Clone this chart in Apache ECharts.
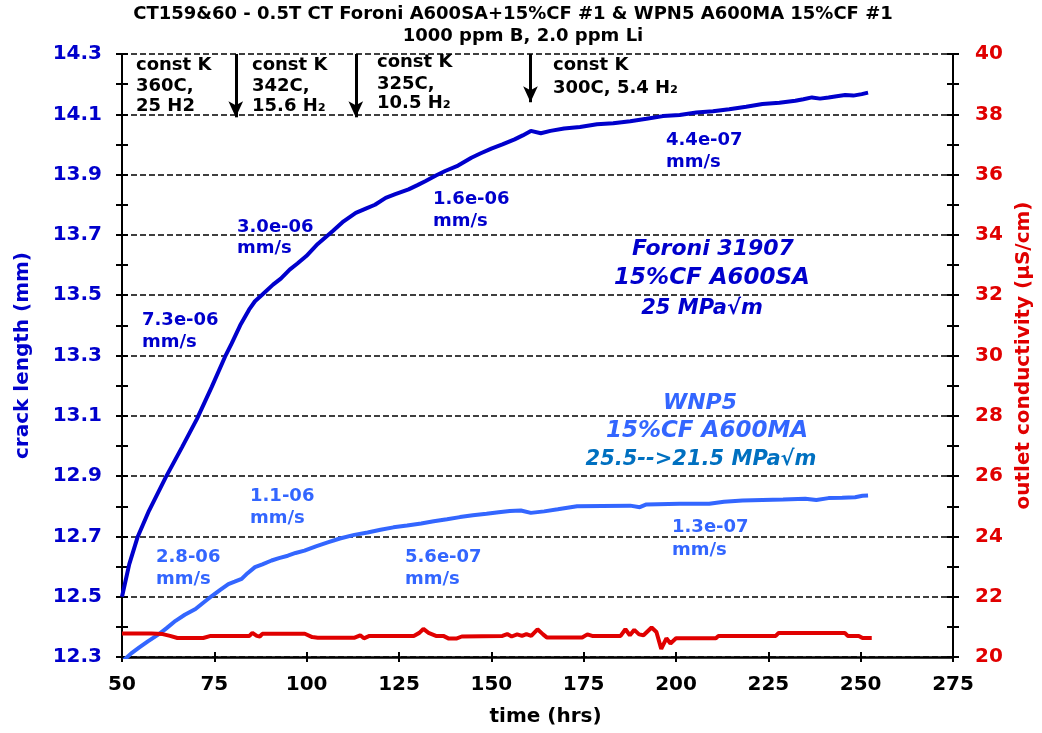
<!DOCTYPE html>
<html><head><meta charset="utf-8">
<script src="https://cdn.jsdelivr.net/npm/echarts@6/dist/echarts.min.js"></script>
<style>html,body{margin:0;padding:0;background:#fff}#c{width:1042px;height:733px}</style>
</head><body><div id="c"></div>
<script>
// ---- data ----
const foroniT = [50, 51.97, 54.2, 57.3, 61.8, 66.3, 70.3, 74.3, 77.9, 79.7, 82, 84.4, 86, 87.8, 90.9, 93, 95.4, 97.5, 99.9, 103, 107, 110, 113.3, 116, 118.5, 121.4, 124, 127.6, 130, 132.1, 135, 137.5, 141, 144.6, 147, 150, 153, 156.3, 158.5, 160.7, 163.4, 166, 169.7, 174, 178.6, 183, 187.6, 192, 196.5, 201, 205.5, 210, 214.4, 219, 223.4, 228, 232.3, 234.5, 236.8, 239, 241.3, 243.5, 245.8, 248, 250.3, 252];
const foroniCrack = [12.50, 12.608, 12.697, 12.785, 12.895, 12.997, 13.09, 13.196, 13.296, 13.34, 13.40, 13.452, 13.48, 13.50, 13.535, 13.555, 13.585, 13.605, 13.63, 13.67, 13.712, 13.745, 13.773, 13.787, 13.80, 13.823, 13.835, 13.851, 13.865, 13.878, 13.897, 13.912, 13.93, 13.956, 13.97, 13.986, 14.0, 14.017, 14.03, 14.045, 14.037, 14.045, 14.053, 14.058, 14.067, 14.07, 14.077, 14.085, 14.094, 14.098, 14.106, 14.11, 14.117, 14.125, 14.134, 14.138, 14.145, 14.15, 14.156, 14.152, 14.156, 14.16, 14.164, 14.162, 14.167, 14.172];

const wnpT = [50.5, 52.5, 54.6, 57, 60, 62, 64.5, 67, 69.9, 72, 74.4, 76.5, 78.8, 80.5, 82.4, 84, 86, 88, 90.5, 92.5, 94.9, 97, 99.4, 102.5, 105.7, 109, 112.9, 116.5, 120, 123.5, 127.2, 131, 134.4, 138, 141.5, 145, 148.7, 152, 155, 158, 160.7, 164.3, 168, 173.2, 180, 187.6, 190.2, 192, 201, 209, 213, 218, 223.4, 229, 235, 238, 241.3, 245, 248.5, 250.5, 252];
const wnpCrack = [12.29, 12.312, 12.331, 12.352, 12.376, 12.395, 12.42, 12.44, 12.459, 12.48, 12.503, 12.522, 12.542, 12.55, 12.559, 12.578, 12.598, 12.607, 12.62, 12.628, 12.636, 12.645, 12.653, 12.667, 12.68, 12.693, 12.705, 12.713, 12.722, 12.73, 12.736, 12.743, 12.75, 12.757, 12.764, 12.77, 12.775, 12.78, 12.784, 12.786, 12.778, 12.783, 12.79, 12.80, 12.801, 12.802, 12.797, 12.806, 12.808, 12.808, 12.815, 12.819, 12.821, 12.822, 12.825, 12.821, 12.827, 12.828, 12.83, 12.835, 12.836];

const condT = [50, 58, 61, 63, 65, 72, 74, 84.5, 85.3, 86.5, 87.3, 88, 99.5, 101.5, 103, 109, 113, 114.5, 115.5, 117, 129, 130.5, 131.6, 133, 135, 137, 138.5, 140.5, 142, 153, 154.3, 155.5, 157, 158.3, 159.5, 160.8, 162.5, 164, 165, 174.6, 176, 177.3, 185, 186.3, 187.5, 188.7, 190, 191.2, 193.4, 194.7, 196, 197.4, 198.5, 200, 210.8, 211.5, 227, 227.8, 245.7, 246.5, 249.5, 250.5, 253];
const condVal = [20.78, 20.78, 20.76, 20.70, 20.63, 20.63, 20.70, 20.70, 20.80, 20.70, 20.68, 20.77, 20.77, 20.66, 20.64, 20.64, 20.64, 20.72, 20.62, 20.70, 20.70, 20.80, 20.93, 20.80, 20.70, 20.70, 20.61, 20.61, 20.68, 20.70, 20.76, 20.68, 20.75, 20.70, 20.76, 20.70, 20.92, 20.75, 20.65, 20.65, 20.75, 20.70, 20.70, 20.92, 20.72, 20.90, 20.75, 20.72, 20.98, 20.83, 20.27, 20.62, 20.45, 20.62, 20.62, 20.70, 20.70, 20.80, 20.80, 20.70, 20.70, 20.63, 20.63];

const xTicks = {min: 50, max: 275, step: 25};
const leftTicks = {min: 12.3, max: 14.3};
const rightTicks = {min: 20, max: 40, step: 2};

const arrowTimes = [80.8, 113.3, 160.6];
const arrowTips = [14.09, 14.09, 14.14];

// ---- chart ----
const FONT = '"DejaVu Sans", Verdana, sans-serif';
const DARK = '#0000CC', LIGHT = '#3366FF', RED = '#E00000', TEAL = '#0070C0';
const pairs = (t, v) => t.map((x, i) => [x, v[i]]);

const tickStyle = {color: '#000', width: 2};
function txt(text, x, y, color, size, opt) {
  opt = opt || {};
  return {type: 'text', x: x, y: y, z: 100, silent: true,
    style: {text: text, fill: color, fontSize: size, fontWeight: 'bold',
      fontStyle: opt.italic ? 'italic' : 'normal', fontFamily: FONT,
      align: opt.align || 'left', verticalAlign: 'middle'}};
}

const graphics = [
  txt('CT159&60 - 0.5T CT Foroni A600SA+15%CF #1 & WPN5 A600MA 15%CF #1', 513, 14, '#000', 18, {align: 'center'}),
  txt('1000 ppm B, 2.0 ppm Li', 523, 36, '#000', 18, {align: 'center'}),
  txt('const K', 136, 65, '#000', 18), txt('360C,', 136, 86, '#000', 18), txt('25 H2', 136, 106, '#000', 18),
  txt('const K', 252, 65, '#000', 18), txt('342C,', 252, 86, '#000', 18), txt('15.6 H\u2082', 252, 106, '#000', 18),
  txt('const K', 377, 62, '#000', 18), txt('325C,', 377, 84, '#000', 18), txt('10.5 H\u2082', 377, 103, '#000', 18),
  txt('const K', 553, 65, '#000', 18), txt('300C, 5.4 H\u2082', 553, 88, '#000', 18),
  txt('7.3e-06', 142, 320, DARK, 18), txt('mm/s', 142, 342, DARK, 18),
  txt('3.0e-06', 237, 227, DARK, 18), txt('mm/s', 237, 248, DARK, 18),
  txt('1.6e-06', 433, 199, DARK, 18), txt('mm/s', 433, 221, DARK, 18),
  txt('4.4e-07', 666, 140, DARK, 18), txt('mm/s', 666, 162, DARK, 18),
  txt('2.8-06', 156, 557, LIGHT, 18), txt('mm/s', 156, 579, LIGHT, 18),
  txt('1.1-06', 250, 496, LIGHT, 18), txt('mm/s', 250, 518, LIGHT, 18),
  txt('5.6e-07', 405, 557, LIGHT, 18), txt('mm/s', 405, 579, LIGHT, 18),
  txt('1.3e-07', 672, 527, LIGHT, 18), txt('mm/s', 672, 550, LIGHT, 18),
  txt('Foroni 31907', 713, 249, DARK, 22, {italic: true, align: 'center'}),
  txt('15%CF A600SA', 712, 278, DARK, 23, {italic: true, align: 'center'}),
  txt('25 MPa\u221Am', 702, 309, DARK, 21, {italic: true, align: 'center'}),
  txt('WNP5', 700, 403, LIGHT, 22, {italic: true, align: 'center'}),
  txt('15%CF A600MA', 707, 431, LIGHT, 23, {italic: true, align: 'center'}),
  txt('25.5-->21.5 MPa\u221Am', 701, 460, TEAL, 21, {italic: true, align: 'center'})
];

const chart = echarts.init(document.getElementById('c'), null, {renderer: 'canvas'});
chart.setOption({
  animation: false,
  backgroundColor: '#fff',
  grid: {left: 122, right: 82, top: 54, bottom: 76, containLabel: false},
  xAxis: [
    {type: 'value', min: xTicks.min, max: xTicks.max, interval: xTicks.step, position: 'bottom',
      axisLine: {show: true, onZero: false, lineStyle: {color: '#000', width: 2.5}},
      axisTick: {show: true, inside: false, length: 5, lineStyle: tickStyle},
      axisLabel: {color: '#000', fontSize: 20, fontWeight: 'bold', fontFamily: FONT, margin: 18},
      splitLine: {show: false},
      name: 'time (hrs)', nameLocation: 'middle', nameGap: 50,
      nameTextStyle: {color: '#000', fontSize: 20, fontWeight: 'bold', fontFamily: FONT, padding: [0, 0, 0, 16]}},
    {type: 'value', min: xTicks.min, max: xTicks.max, interval: xTicks.step, position: 'bottom',
      axisLine: {show: false}, axisTick: {show: true, inside: true, length: 5, lineStyle: tickStyle},
      axisLabel: {show: false}, splitLine: {show: false}}
  ],
  yAxis: [
    {type: 'value', min: leftTicks.min, max: leftTicks.max, interval: 0.1, position: 'left',
      axisLine: {show: true, onZero: false, lineStyle: {color: '#000', width: 2}},
      axisTick: {show: true, inside: false, length: 6, lineStyle: tickStyle},
      axisLabel: {color: DARK, fontSize: 20, fontWeight: 'bold', fontFamily: FONT, margin: 20,
        formatter: v => (Math.round(v * 10) % 2 === 1 ? v.toFixed(1) : '')},
      splitLine: {show: false},
      name: 'crack length (mm)', nameLocation: 'middle', nameGap: 89,
      nameTextStyle: {color: DARK, fontSize: 20, fontWeight: 'bold', fontFamily: FONT}},
    {type: 'value', min: rightTicks.min, max: rightTicks.max, interval: rightTicks.step, position: 'right',
      axisLine: {show: true, onZero: false, lineStyle: {color: '#000', width: 2}},
      axisTick: {show: true, inside: false, length: 6, lineStyle: tickStyle},
      minorTick: {show: true, splitNumber: 2, length: 6, lineStyle: tickStyle},
      axisLabel: {color: RED, fontSize: 20, fontWeight: 'bold', fontFamily: FONT, margin: 22},
      splitLine: {show: true, lineStyle: {color: '#000', width: 1.5, type: [6, 3]}},
      name: 'outlet conductivity (\u00B5S/cm)', nameLocation: 'middle', nameGap: 61,
      nameTextStyle: {color: RED, fontSize: 20, fontWeight: 'bold', fontFamily: FONT}},
    {type: 'value', min: leftTicks.min, max: leftTicks.max, interval: 0.1, position: 'left',
      axisLine: {show: false}, axisTick: {show: true, inside: true, length: 6, lineStyle: tickStyle},
      axisLabel: {show: false}, splitLine: {show: false}},
    {type: 'value', min: rightTicks.min, max: rightTicks.max, interval: rightTicks.step, position: 'right',
      axisLine: {show: false}, axisTick: {show: true, inside: true, length: 6, lineStyle: tickStyle},
      minorTick: {show: true, splitNumber: 2, length: 6, lineStyle: tickStyle},
      axisLabel: {show: false}, splitLine: {show: false}}
  ],
  series: [
    {type: 'line', name: 'Foroni', xAxisIndex: 0, yAxisIndex: 0, data: pairs(foroniT, foroniCrack),
      showSymbol: false, symbol: 'none', lineStyle: {color: DARK, width: 4}, itemStyle: {color: DARK},
      markLine: {silent: true, symbol: ['none', 'arrow'], symbolSize: [11, 16], label: {show: false},
        lineStyle: {color: '#000', width: 3, type: 'solid'},
        data: arrowTimes.map((t, i) => [{coord: [t, leftTicks.max]}, {coord: [t, arrowTips[i]]}])}},
    {type: 'line', name: 'WNP5', xAxisIndex: 0, yAxisIndex: 0, data: pairs(wnpT, wnpCrack),
      showSymbol: false, symbol: 'none', lineStyle: {color: LIGHT, width: 4}, itemStyle: {color: LIGHT}},
    {type: 'line', name: 'conductivity', xAxisIndex: 0, yAxisIndex: 1, data: pairs(condT, condVal),
      showSymbol: false, symbol: 'none', lineStyle: {color: RED, width: 4}, itemStyle: {color: RED}}
  ],
  graphic: graphics
});
</script>
</body></html>
